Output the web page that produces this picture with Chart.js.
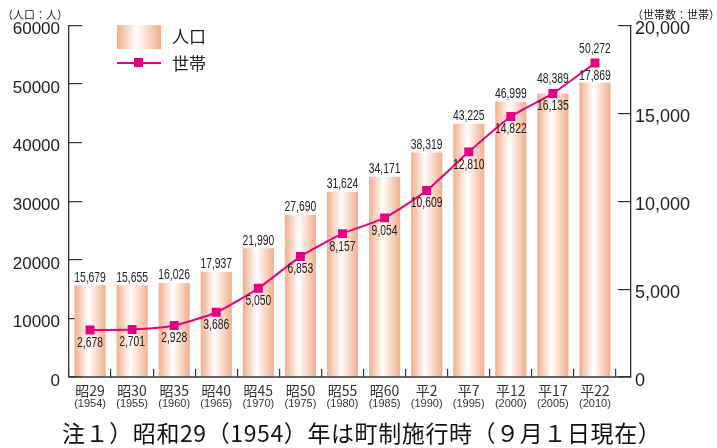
<!DOCTYPE html>
<html>
<head>
<meta charset="utf-8">
<script src="https://cdn.jsdelivr.net/npm/chart.js@4.4.1/dist/chart.umd.min.js"></script>
<style>
  body { margin: 0; background: #fff; }
  #wrap { position: relative; width: 717px; height: 448px; color: #222; font-family: "Noto Sans CJK JP", sans-serif; }
  #wrap canvas { position: absolute; left: 0; top: 0; }
  .unit { position: absolute; top: 6px; font-size: 11px; line-height: 16px; white-space: nowrap; }
  .lg-box { position: absolute; left: 117px; top: 25px; width: 44px; height: 24px;
    background: linear-gradient(to right, #f3ae8a 0%, #ffffff 45%, #f3ae8a 100%); }
  .lg-line { position: absolute; left: 117px; top: 62px; width: 44px; height: 2px; background: #e4007f; }
  .lg-mark { position: absolute; left: 134px; top: 58px; width: 9px; height: 9px; background: #e4007f; }
  .lg-text { position: absolute; left: 172px; font-size: 17px; line-height: 22px; }
  .note { position: absolute; left: 62px; top: 418px; font-size: 23px; letter-spacing: 0.6px; line-height: 28px; white-space: nowrap; color: #111; }
</style>
</head>
<body>
<div id="wrap">
  <canvas id="chart" width="717" height="448"></canvas>
  <div class="unit" style="left:2px">（人口：人）</div>
  <div class="unit" style="left:632px">（世帯数：世帯）</div>
  <div class="lg-box"></div>
  <div class="lg-text" style="top:25px">人口</div>
  <div class="lg-line"></div>
  <div class="lg-mark"></div>
  <div class="lg-text" style="top:52px">世帯</div>
  <div class="note">注１）昭和29（1954）年は町制施行時（９月１日現在）</div>
</div>
<script>
const eraLabels = ['昭29', '昭30', '昭35', '昭40', '昭45', '昭50', '昭55', '昭60', '平2', '平7', '平12', '平17', '平22'];
const yearLabels = ['(1954)', '(1955)', '(1960)', '(1965)', '(1970)', '(1975)', '(1980)', '(1985)', '(1990)', '(1995)', '(2000)', '(2005)', '(2010)'];
const population = [15679, 15655, 16026, 17937, 21990, 27690, 31624, 34171, 38319, 43225, 46999, 48389, 50272];
const households = [2678, 2701, 2928, 3686, 5050, 6853, 8157, 9054, 10609, 12810, 14822, 16135, 17869];

const EDGE = '#f3ae8a';
const BAR_PCT = 0.74;
const AXIS = '#333';
const NUM_FONT = '"Liberation Sans", Arial, sans-serif';
const fmt = v => v.toLocaleString('en-US');

// horizontal orange-white-orange shading on each bar
function barFill(ctx) {
  const x = ctx.chart.scales.x;
  if (!x || ctx.type !== 'data') return EDGE;
  const cx = x.getPixelForValue(ctx.dataIndex);
  const half = x.width / eraLabels.length * BAR_PCT / 2;
  if (!isFinite(cx) || !isFinite(half) || half <= 0) return EDGE;
  const g = ctx.chart.ctx.createLinearGradient(cx - half, 0, cx + half, 0);
  g.addColorStop(0, EDGE);
  g.addColorStop(0.45, '#ffffff');
  g.addColorStop(1, EDGE);
  return g;
}

// bars stop a little before the right axis
const shrinkX = {
  id: 'shrinkX',
  afterLayout(chart) {
    ['x', 'x2'].forEach(id => {
      const s = chart.scales[id];
      s.right = chart.chartArea.right - 15;
      s.width = s.right - s.left;
      s.configure();
    });
  }
};

const bottomLine = {
  id: 'bottomLine',
  afterDraw(chart) {
    const a = chart.chartArea, c = chart.ctx;
    c.save();
    c.strokeStyle = AXIS;
    c.lineWidth = 1.3;
    c.beginPath();
    c.moveTo(a.left, a.bottom);
    c.lineTo(a.right, a.bottom);
    c.stroke();
    c.restore();
  }
};

// narrow value text
function narrowText(c, text, x, y) {
  c.save();
  c.translate(x, y);
  c.scale(0.74, 1);
  c.fillText(text, 0, 0);
  c.restore();
}

const valueLabels = {
  id: 'valueLabels',
  afterDatasetsDraw(chart) {
    const c = chart.ctx;
    const bars = chart.getDatasetMeta(0).data;
    const pts = chart.getDatasetMeta(1).data;
    c.save();
    c.font = '14px ' + NUM_FONT;
    c.fillStyle = '#222';
    c.textAlign = 'center';
    c.textBaseline = 'middle';
    bars.forEach((bar, i) => {
      const p = pts[i];
      let y = bar.y - 7.5;
      if (p.y < bar.y + 6) y = Math.min(y, p.y - 14);
      narrowText(c, fmt(population[i]), bar.x, y);
      narrowText(c, fmt(households[i]), p.x, p.y + 13);
    });
    c.restore();
  }
};

function fixY(width) {
  return s => { s.width = width; s.paddingTop = 0; s.paddingBottom = 0; };
}

new Chart(document.getElementById('chart'), {
  data: {
    labels: eraLabels,
    datasets: [{
      type: 'bar',
      label: '人口',
      data: population,
      backgroundColor: barFill,
      borderWidth: 0,
      barPercentage: BAR_PCT,
      categoryPercentage: 1,
      yAxisID: 'y',
      order: 2
    }, {
      type: 'line',
      label: '世帯',
      data: households,
      borderColor: '#e4007f',
      backgroundColor: '#e4007f',
      borderWidth: 2,
      pointStyle: 'rect',
      pointRadius: 6.3,
      pointBackgroundColor: '#e4007f',
      pointBorderWidth: 0,
      tension: 0.2,
      yAxisID: 'y1',
      order: 1
    }]
  },
  options: {
    responsive: false,
    animation: false,
    devicePixelRatio: 1,
    layout: { padding: { top: 25.5, left: 0, right: 0, bottom: 0 } },
    plugins: { legend: { display: false }, tooltip: { enabled: false } },
    scales: {
      x: {
        type: 'category',
        position: 'bottom',
        weight: 0,
        offset: true,
        grid: { offset: true, drawOnChartArea: false, tickLength: -8, color: AXIS, lineWidth: 1.2 },
        border: { display: false },
        ticks: {
          maxRotation: 0, autoSkip: false, padding: 13, color: '#333',
          font: { family: '"Liberation Sans Narrow", "Noto Sans CJK JP", ' + NUM_FONT, size: 14 }
        },
        afterFit(s) { s.height = 22; s.paddingLeft = 0; s.paddingRight = 0; }
      },
      x2: {
        type: 'category',
        labels: yearLabels,
        position: 'bottom',
        weight: 1,
        offset: true,
        grid: { display: false, drawTicks: false },
        border: { display: false },
        ticks: {
          maxRotation: 0, autoSkip: false, padding: -1.5, color: '#333',
          font: { family: NUM_FONT, size: 11 }
        },
        afterFit(s) { s.height = 49; s.paddingLeft = 0; s.paddingRight = 0; }
      },
      y: {
        position: 'left',
        min: 0, max: 60000,
        grid: { drawOnChartArea: false, tickLength: -13, color: AXIS, lineWidth: 1.2 },
        border: { color: AXIS, width: 1.3 },
        ticks: {
          stepSize: 10000, padding: 22, labelOffset: 4, color: '#222',
          font: { family: NUM_FONT, size: 17 },
          callback: v => String(v)
        },
        afterFit: fixY(69)
      },
      y1: {
        position: 'right',
        min: 0, max: 20000,
        grid: { drawOnChartArea: false, tickLength: -13, color: AXIS, lineWidth: 1.2 },
        border: { color: AXIS, width: 1.3 },
        ticks: {
          stepSize: 5000, padding: 17, labelOffset: 4, color: '#222',
          font: { family: NUM_FONT, size: 18 },
          callback: v => fmt(v)
        },
        afterFit: fixY(86)
      }
    }
  },
  plugins: [shrinkX, bottomLine, valueLabels]
});
</script>
</body>
</html>
